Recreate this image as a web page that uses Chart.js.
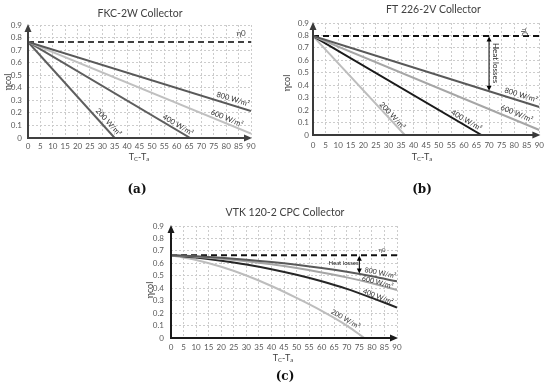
<!DOCTYPE html>
<html><head><meta charset="utf-8">
<script src="https://cdn.jsdelivr.net/npm/chart.js@4/dist/chart.umd.min.js"></script>
<style>
html,body{margin:0;padding:0;background:#fff;}
#wrap{position:relative;width:550px;height:390px;overflow:hidden;background:#fff;}
canvas{position:absolute;}
</style></head><body>
<div id="wrap">
<canvas id="ca" width="275" height="195" style="left:0;top:0"></canvas>
<canvas id="cb" width="275" height="195" style="left:275px;top:0"></canvas>
<canvas id="cc" width="290" height="195" style="left:130px;top:195px"></canvas>
</div>
<script>
// ---------- shared ticks ----------
const xTickValues = [0,5,10,15,20,25,30,35,40,45,50,55,60,65,70,75,80,85,90];
const yTickValues = [0,0.1,0.2,0.3,0.4,0.5,0.6,0.7,0.8,0.9];
const seriesNames = ['800 W/m²','600 W/m²','400 W/m²','200 W/m²'];

// ---------- (a) FKC-2W Collector ----------
const aEta0 = 0.765;
const a800x = [0, 90],   a800y = [0.765, 0.215];
const a600x = [0, 90],   a600y = [0.765, 0.035];
const a400x = [0, 65.5], a400y = [0.765, 0];
const a200x = [0, 35],   a200y = [0.765, 0];

// ---------- (b) FT 226-2V Collector ----------
const bEta0 = 0.795;
const b800x = [0, 90],   b800y = [0.795, 0.225];
const b600x = [0, 90],   b600y = [0.795, 0.04];
const b400x = [0, 67],   b400y = [0.795, 0];
const b200x = [0, 36.5], b200y = [0.795, 0];

// ---------- (c) VTK 120-2 CPC Collector ----------
const cEta0 = 0.665;
const c800x = [0,10,20,30,40,50,60,70,80,90];
const c800y = [0.665,0.656,0.644,0.629,0.611,0.589,0.563,0.532,0.496,0.455];
const c600x = [0,10,20,30,40,50,60,70,80,90];
const c600y = [0.665,0.653,0.637,0.617,0.592,0.562,0.527,0.487,0.440,0.385];
const c400x = [0,10,20,30,40,50,60,70,80,90];
const c400y = [0.665,0.646,0.621,0.591,0.553,0.508,0.456,0.395,0.322,0.245];
const c200x = [0,10,20,30,40,50,60,70,77];
const c200y = [0.665,0.627,0.572,0.502,0.418,0.322,0.218,0.100,0];

const FONT = 'Lato, "Open Sans", sans-serif';
const pts = (xs, ys) => xs.map((x, i) => ({x, y: ys[i]}));

function segPoint(chart, ds, xv) {
  const p = chart.getDatasetMeta(ds).data;
  const px = chart.scales.x.getPixelForValue(xv);
  for (let i = 0; i < p.length - 1; i++) {
    const a = p[i], b = p[i+1];
    if (px >= a.x && px <= b.x) {
      const t = (px - a.x) / (b.x - a.x);
      return {x: px, y: a.y + t*(b.y - a.y), ang: Math.atan2(b.y - a.y, b.x - a.x)};
    }
  }
  const a = p[p.length-2], b = p[p.length-1];
  return {x: b.x, y: b.y, ang: Math.atan2(b.y - a.y, b.x - a.x)};
}

function arrowHead(ctx, x, y, dx, dy, len, wid) {
  const nx = -dy, ny = dx;
  ctx.beginPath();
  ctx.moveTo(x, y);
  ctx.lineTo(x - dx*len + nx*wid/2, y - dy*len + ny*wid/2);
  ctx.lineTo(x - dx*len - nx*wid/2, y - dy*len - ny*wid/2);
  ctx.closePath();
  ctx.fill();
}

const overlay = {
  id: 'overlay',
  afterDatasetsDraw(chart, args, o) {
    const {ctx, scales: {x, y}} = chart;
    ctx.save();
    // axes with arrows
    const x0 = x.getPixelForValue(0), y0 = y.getPixelForValue(0);
    const xe = x.getPixelForValue(90) + 1, ye = y.getPixelForValue(0.9) - 1;
    ctx.strokeStyle = o.axisColor; ctx.fillStyle = o.axisColor; ctx.lineWidth = 2;
    ctx.beginPath(); ctx.moveTo(x0 - 1, y0); ctx.lineTo(xe - 6, y0); ctx.stroke();
    arrowHead(ctx, xe, y0, 1, 0, 8, 7);
    ctx.beginPath(); ctx.moveTo(x0, y0 + 1); ctx.lineTo(x0, ye + 6); ctx.stroke();
    arrowHead(ctx, x0, ye, 0, -1, 8, 7);

    // series labels
    ctx.fillStyle = '#333';
    for (const L of o.labels) {
      const p = segPoint(chart, L.ds, L.x);
      ctx.save();
      ctx.translate(p.x, p.y);
      ctx.rotate(p.ang);
      ctx.font = L.size + 'px ' + FONT;
      ctx.textAlign = 'center'; ctx.textBaseline = 'middle';
      ctx.fillText(L.text, 0, L.off);
      ctx.restore();
    }

    // heat losses arrow
    if (o.heat) {
      const H = o.heat;
      const hx = x.getPixelForValue(H.x);
      const top = y.getPixelForValue(H.from);
      const bot = segPoint(chart, H.ds, H.x).y;
      ctx.strokeStyle = '#000'; ctx.fillStyle = '#000'; ctx.lineWidth = 1;
      ctx.beginPath(); ctx.moveTo(hx, top + 4); ctx.lineTo(hx, bot - 4); ctx.stroke();
      arrowHead(ctx, hx, top + 0.5, 0, -1, 5, 5);
      arrowHead(ctx, hx, bot - 0.5, 0, 1, 5, 5);
      ctx.save();
      ctx.translate(x.getPixelForValue(H.tx), y.getPixelForValue(H.ty));
      ctx.rotate(H.rot);
      ctx.font = H.size + 'px ' + FONT;
      ctx.fillStyle = '#222';
      ctx.textAlign = 'center'; ctx.textBaseline = 'middle';
      ctx.fillText('Heat losses', 0, 0);
      ctx.restore();
    }

    // eta0 label
    if (o.eta) {
      const E = o.eta;
      ctx.save();
      ctx.translate(x.getPixelForValue(E.x), y.getPixelForValue(E.y));
      ctx.rotate(E.rot);
      ctx.font = E.size + 'px ' + FONT;
      ctx.fillStyle = '#444';
      ctx.textAlign = 'center'; ctx.textBaseline = 'middle';
      ctx.fillText('η0', 0, 0);
      ctx.restore();
    }

    // title
    const T = o.title;
    ctx.font = T.size + 'px ' + FONT;
    ctx.fillStyle = '#404040';
    ctx.textAlign = 'center'; ctx.textBaseline = 'middle';
    ctx.fillText(T.text, T.x, T.y);

    // y title
    const Y = o.ytitle;
    ctx.save();
    ctx.translate(Y.x, Y.y); ctx.rotate(-Math.PI/2);
    ctx.font = '9px ' + FONT; ctx.fillStyle = '#404040';
    ctx.fillText('ηcol', 0, 0);
    ctx.restore();

    // x title  T_C - T_a
    const X = o.xtitle;
    const big = '9px ' + FONT, small = '6px ' + FONT;
    const parts = [['T', big, 0], ['C', small, 2], ['-T', big, 0], ['a', small, 2]];
    let w = 0;
    for (const [t, f] of parts) { ctx.font = f; w += ctx.measureText(t).width; }
    let cx = X.x - w/2;
    ctx.textAlign = 'left'; ctx.fillStyle = '#404040';
    for (const [t, f, dy] of parts) {
      ctx.font = f; ctx.fillText(t, cx, X.y + dy); cx += ctx.measureText(t).width;
    }

    // caption
    const C = o.caption;
    ctx.font = 'bold 12px "DejaVu Serif", "Liberation Serif", serif';
    ctx.fillStyle = '#111'; ctx.textAlign = 'center';
    ctx.fillText(C.text, C.x, C.y);
    ctx.restore();
  }
};

function makeChart(id, cfg) {
  const ds = cfg.series.map((s) => ({
    data: s.data, borderColor: s.color, borderWidth: 2, pointRadius: 0,
    fill: false, tension: 0, cubicInterpolationMode: cfg.curved ? 'monotone' : 'default'
  }));
  ds.push({data: [{x:0, y:cfg.eta0}, {x:90, y:cfg.eta0}], borderColor: cfg.dashColor,
    borderWidth: 2, borderDash: [6, 4], pointRadius: 0, fill: false});
  return new Chart(document.getElementById(id), {
    type: 'line',
    data: {datasets: ds},
    options: {
      responsive: false, animation: false, devicePixelRatio: 1,
      layout: {padding: {top: cfg.pad.top, right: cfg.pad.right, left: 0, bottom: 0}},
      plugins: {legend: {display: false}, tooltip: {enabled: false}, title: {display: false},
        overlay: cfg.overlay},
      scales: {
        x: {type: 'linear', min: 0, max: 90,
          afterFit: (s) => { s.height = cfg.xh; },
          afterBuildTicks: (s) => { s.ticks = xTickValues.map(v => ({value: v})); },
          ticks: {autoSkip: false, maxRotation: 0, padding: cfg.xpad, color: '#595959',
            font: {family: FONT, size: 8}},
          grid: {color: '#cccccc', lineWidth: 1, drawTicks: false},
          border: {display: false, dash: [2, 2]}},
        y: {type: 'linear', min: 0, max: 0.9,
          afterFit: (s) => { s.width = cfg.yw; },
          afterBuildTicks: (s) => { s.ticks = yTickValues.map(v => ({value: v})); },
          ticks: {autoSkip: false, padding: cfg.ypad, color: '#595959', font: {family: FONT, size: 8},
            callback: (v) => String(Math.round(v*10)/10)},
          grid: {color: '#cccccc', lineWidth: 1, drawTicks: false},
          border: {display: false, dash: [2, 2]}}
      }
    },
    plugins: [overlay]
  });
}

makeChart('ca', {
  eta0: aEta0, dashColor: '#404040', curved: false,
  pad: {top: 25, right: 24}, yw: 28, xh: 57, xpad: 4, ypad: 6,
  series: [
    {data: pts(a800x, a800y), color: '#595959'},
    {data: pts(a600x, a600y), color: '#c0c0c0'},
    {data: pts(a400x, a400y), color: '#5e5e5e'},
    {data: pts(a200x, a200y), color: '#5e5e5e'}
  ],
  overlay: {
    axisColor: '#404040',
    labels: [
      {ds: 0, x: 82, off: -6, size: 7.5, text: seriesNames[0]},
      {ds: 1, x: 79.5, off: -5, size: 7.5, text: seriesNames[1]},
      {ds: 2, x: 59.5, off: -5, size: 7.5, text: seriesNames[2]},
      {ds: 3, x: 30.7, off: -6, size: 7.5, text: seriesNames[3]}
    ],
    eta: {x: 86, y: 0.83, rot: 0, size: 8},
    title: {text: 'FKC-2W Collector', x: 140, y: 14, size: 10.5},
    ytitle: {x: 8, y: 82},
    xtitle: {x: 139, y: 157},
    caption: {text: '(a)', x: 137, y: 190}
  }
});

makeChart('cb', {
  eta0: bEta0, dashColor: '#111', curved: false,
  pad: {top: 23, right: 9}, yw: 38, xh: 60, xpad: 6, ypad: 4,
  series: [
    {data: pts(b800x, b800y), color: '#595959'},
    {data: pts(b600x, b600y), color: '#a6a6a6'},
    {data: pts(b400x, b400y), color: '#1a1a1a'},
    {data: pts(b200x, b200y), color: '#bdbdbd'}
  ],
  overlay: {
    axisColor: '#3a3a3a',
    labels: [
      {ds: 0, x: 82, off: -6, size: 7.5, text: seriesNames[0]},
      {ds: 1, x: 80, off: -6.5, size: 7.5, text: seriesNames[1]},
      {ds: 2, x: 60, off: -5, size: 7.5, text: seriesNames[2]},
      {ds: 3, x: 30.4, off: -4, size: 7.5, text: seriesNames[3]}
    ],
    heat: {x: 70, from: bEta0, ds: 0, tx: 72.6, ty: 0.578, rot: Math.PI/2, size: 8},
    eta: {x: 83.8, y: 0.825, rot: Math.PI/2, size: 7},
    title: {text: 'FT 226-2V Collector', x: 158.5, y: 10, size: 10.5},
    ytitle: {x: 12, y: 83},
    xtitle: {x: 147, y: 157},
    caption: {text: '(b)', x: 147, y: 190}
  }
});

makeChart('cc', {
  eta0: cEta0, dashColor: '#111', curved: true,
  pad: {top: 31, right: 23}, yw: 41, xh: 52, xpad: 5, ypad: 7,
  series: [
    {data: pts(c800x, c800y), color: '#595959'},
    {data: pts(c600x, c600y), color: '#a6a6a6'},
    {data: pts(c400x, c400y), color: '#262626'},
    {data: pts(c200x, c200y), color: '#bdbdbd'}
  ],
  overlay: {
    axisColor: '#1a1a1a',
    labels: [
      {ds: 0, x: 83, off: -5, size: 7, text: seriesNames[0]},
      {ds: 1, x: 82, off: -2.5, size: 7, text: seriesNames[1]},
      {ds: 2, x: 82, off: -3.5, size: 7, text: seriesNames[2]},
      {ds: 3, x: 68.5, off: -5, size: 7, text: seriesNames[3]}
    ],
    heat: {x: 75, from: cEta0, ds: 0, tx: 68.7, ty: 0.603, rot: 0, size: 6},
    eta: {x: 84, y: 0.71, rot: 0, size: 6},
    title: {text: 'VTK 120-2 CPC Collector', x: 155, y: 18, size: 10.5},
    ytitle: {x: 20, y: 95},
    xtitle: {x: 153, y: 163},
    caption: {text: '(c)', x: 155, y: 182}
  }
});
</script>
</body></html>
